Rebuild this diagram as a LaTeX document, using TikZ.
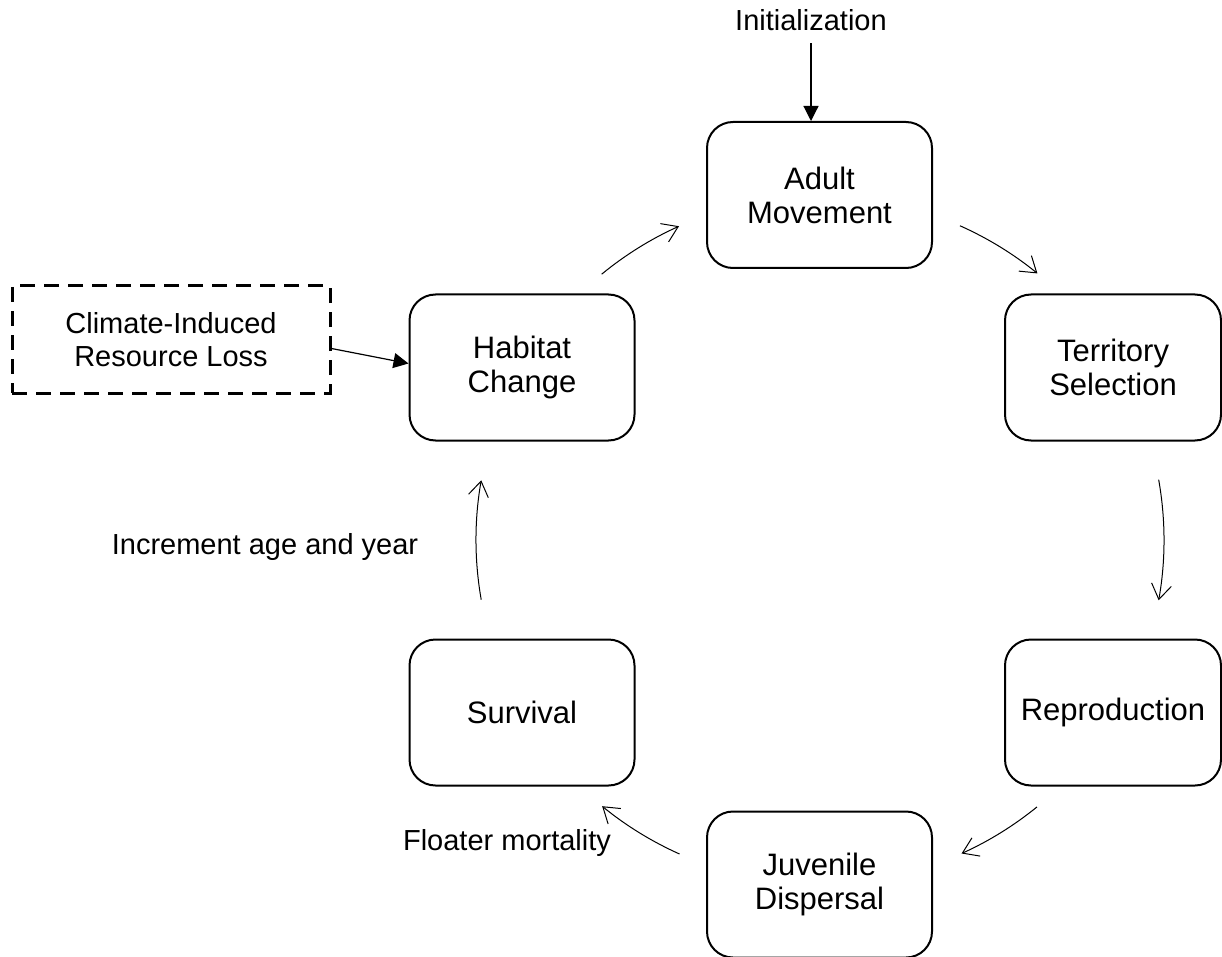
\documentclass[tikz,border=0pt]{standalone}
\usepackage{fontspec}
\setmainfont{Liberation Sans}
\usetikzlibrary{arrows.meta,calc}
\begin{document}
\begin{tikzpicture}[x=1pt,y=-1pt,
  stagebox/.style={draw,line width=2pt,rounded corners=26pt,minimum width=225pt,minimum height=146pt,align=center,inner sep=0pt,font=\fontsize{31}{34}\selectfont},
  extbox/.style={draw,line width=3pt,dash pattern=on 15pt off 9pt,minimum width=318pt,minimum height=107pt,align=center,inner sep=0pt,font=\fontsize{29}{33.5}\selectfont},
  lbl/.style={inner sep=0pt,font=\fontsize{29}{33.5}\selectfont},
  flow/.style={line width=1pt,-{Straight Barb[length=15pt,width=20pt]}},
  feed/.style={line width=1.2pt,-{Triangle[length=15pt,width=15pt]}}]
\useasboundingbox (0,0) rectangle (1222,957);
\node[stagebox] (adult) at (819.5,195) {Adult\\Movement};
\node[stagebox,minimum width=216pt] (terr) at (1113,367.5) {Territory\\Selection};
\node[stagebox,minimum width=216pt] (repro) at (1113,712.5) {Reproduction};
\node[stagebox] (juv) at (819.5,884.5) {Juvenile\\Dispersal};
\node[stagebox] (surv) at (522,712.5) {Survival};
\node[stagebox] (hab) at (522,367.5) {Habitat\\Change};
\node[extbox] (clim) at (171,339.5) {Climate-Induced\\Resource Loss};
\node[lbl,anchor=base] (init) at (811,31) {Initialization};
\node[lbl,anchor=base] (inc) at (265,554) {Increment age and year};
\node[lbl,anchor=base] (flo) at (507,850) {Floater mortality};
\coordinate (ctr) at (820,540);
\coordinate (haS) at ($(ctr)+(-129.4:344)$);
\coordinate (atS) at ($(ctr)+(-66:344)$);
\coordinate (trS) at ($(ctr)+(-10.1:344)$);
\coordinate (rjS) at ($(ctr)+(50.9:344)$);
\coordinate (jsS) at ($(ctr)+(114.1:344)$);
\coordinate (shS) at ($(ctr)+(170:344)$);
\draw[flow] (haS) arc[start angle=-129.4,end angle=-114.2,radius=344];
\draw[flow] (atS) arc[start angle=-66,end angle=-50.8,radius=344];
\draw[flow] (trS) arc[start angle=-10.1,end angle=10.1,radius=344];
\draw[flow] (rjS) arc[start angle=50.9,end angle=65.7,radius=344];
\draw[flow] (jsS) arc[start angle=114.1,end angle=129.3,radius=344];
\draw[flow] (shS) arc[start angle=170,end angle=190,radius=344];
\draw[feed,shorten <=12pt] (init.south) -- (init.south |- adult.north);
\draw[feed] ($(clim.east)+(0,9)$) -- ($(hab.west)+(0,-4)$);
\end{tikzpicture}
\end{document}
